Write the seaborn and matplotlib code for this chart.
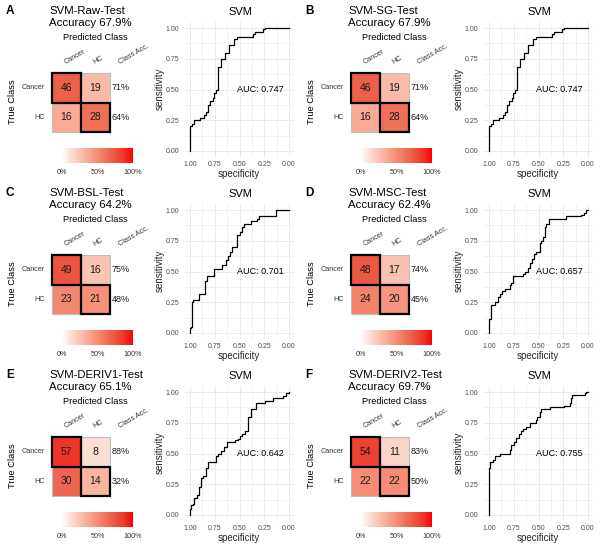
import numpy as np
import pandas as pd
import matplotlib
matplotlib.use("Agg")
import matplotlib.pyplot as plt
import seaborn as sns
from matplotlib.colors import LinearSegmentedColormap
from matplotlib.patches import Rectangle

# ---- data ----
letters = ["A", "B", "C", "D", "E", "F"]
titles = ["SVM-Raw-Test", "SVM-SG-Test", "SVM-BSL-Test",
          "SVM-MSC-Test", "SVM-DERIV1-Test", "SVM-DERIV2-Test"]
classes = ["Cancer", "HC"]
col_labels = ["Cancer", "HC", "Class Acc."]

cm_a = [[46, 19], [16, 28]]
cm_b = [[46, 19], [16, 28]]
cm_c = [[49, 16], [23, 21]]
cm_d = [[48, 17], [24, 20]]
cm_e = [[57, 8], [30, 14]]
cm_f = [[54, 11], [22, 22]]

auc_values = [0.747, 0.747, 0.701, 0.657, 0.642, 0.755]

roc_a_spec = [1.00, 1.00, 0.983, 0.96, 0.90, 0.856, 0.84, 0.82, 0.80, 0.77, 0.76, 0.74,
              0.72, 0.69, 0.65, 0.61, 0.56, 0.53, 0.36, 0.34, 0.26, 0.245, 0.00]
roc_a_sens = [0.00, 0.20, 0.22, 0.25, 0.27, 0.29, 0.32, 0.37, 0.41, 0.43, 0.47, 0.50,
              0.68, 0.75, 0.80, 0.86, 0.91, 0.93, 0.95, 0.97, 0.99, 1.00, 1.00]
roc_b_spec = list(roc_a_spec)
roc_b_sens = list(roc_a_sens)
roc_c_spec = [1.0, 1.0, 0.993, 0.983, 0.967, 0.91, 0.853, 0.827, 0.76, 0.677, 0.633, 0.62,
              0.60, 0.577, 0.527, 0.493, 0.477, 0.45, 0.383, 0.327, 0.30, 0.133, 0.0]
roc_c_sens = [0.0, 0.04, 0.05, 0.25, 0.27, 0.32, 0.42, 0.46, 0.52, 0.55, 0.59, 0.63,
              0.66, 0.70, 0.80, 0.82, 0.86, 0.89, 0.91, 0.93, 0.95, 1.0, 1.0]
roc_d_spec = [1.0, 1.0, 0.976, 0.936, 0.909, 0.892, 0.865, 0.842, 0.791, 0.774, 0.758, 0.657,
              0.633, 0.606, 0.59, 0.566, 0.545, 0.529, 0.488, 0.471, 0.455, 0.438, 0.421,
              0.397, 0.219, 0.067, 0.044, 0.024, 0.0]
roc_d_sens = [0.0, 0.11, 0.23, 0.25, 0.29, 0.32, 0.34, 0.36, 0.39, 0.41, 0.46, 0.48,
              0.50, 0.53, 0.57, 0.60, 0.64, 0.66, 0.73, 0.75, 0.78, 0.86, 0.89,
              0.93, 0.95, 0.96, 0.98, 1.0, 1.0]
roc_e_spec = [1.0, 1.0, 0.993, 0.966, 0.956, 0.926, 0.913, 0.893, 0.873, 0.842, 0.815, 0.742,
              0.715, 0.691, 0.654, 0.631, 0.547, 0.513, 0.497, 0.47, 0.446, 0.419, 0.379,
              0.329, 0.245, 0.161, 0.06, 0.027, 0.0]
roc_e_sens = [0.0, 0.05, 0.08, 0.09, 0.14, 0.16, 0.23, 0.30, 0.32, 0.38, 0.43, 0.48,
              0.50, 0.52, 0.55, 0.59, 0.61, 0.62, 0.64, 0.66, 0.68, 0.80, 0.86,
              0.91, 0.93, 0.95, 0.97, 0.99, 1.0]
roc_f_spec = [1.0, 1.0, 0.99, 0.96, 0.943, 0.892, 0.791, 0.774, 0.751, 0.724, 0.70, 0.68,
              0.657, 0.623, 0.59, 0.529, 0.512, 0.488, 0.471, 0.387, 0.242, 0.185, 0.168,
              0.158, 0.034, 0.017, 0.0]
roc_f_sens = [0.0, 0.38, 0.43, 0.45, 0.48, 0.50, 0.53, 0.57, 0.59, 0.63, 0.66, 0.68,
              0.70, 0.72, 0.75, 0.77, 0.80, 0.84, 0.86, 0.88, 0.89, 0.91, 0.95,
              0.98, 0.99, 1.0, 1.0]

matrices = [cm_a, cm_b, cm_c, cm_d, cm_e, cm_f]
roc_specs = [roc_a_spec, roc_b_spec, roc_c_spec, roc_d_spec, roc_e_spec, roc_f_spec]
roc_senss = [roc_a_sens, roc_b_sens, roc_c_sens, roc_d_sens, roc_e_sens, roc_f_sens]

# ---- style ----
sns.set_theme(style="white")
plt.rcParams["font.family"] = ["Liberation Sans", "DejaVu Sans"]

W, H = 600, 550
fig = plt.figure(figsize=(W / 100, H / 100), dpi=100)

cmap = LinearSegmentedColormap.from_list(
    "wr",
    [(0.0, "#FFFFFF"), (0.12, "#FCDED4"), (0.30, "#F9B9A4"), (0.50, "#F58C73"),
     (0.71, "#EC5F48"), (0.88, "#EE3528"), (1.0, "#FF0000")])


def fxy(x, y):
    return x / W, 1 - y / H


def add_ax(x, y, w, h):
    return fig.add_axes([x / W, 1 - (y + h) / H, w / W, h / H])


dark = "#262626"
grey = "#4D4D4D"

for i in range(6):
    ox = (i % 2) * 299
    oy = (i // 2) * 182
    counts = np.array(matrices[i])
    props = counts / counts.sum(axis=1, keepdims=True)
    acc = np.trace(counts) / counts.sum() * 100
    class_acc = np.round(np.diag(props) * 100).astype(int)

    # confusion matrix
    ax = add_ax(ox + 52, oy + 73, 58, 59)
    cax = add_ax(ox + 62, oy + 148, 71, 15)
    sns.heatmap(pd.DataFrame(props, index=classes, columns=classes), ax=ax,
                cmap=cmap, vmin=0, vmax=1, annot=counts, fmt="d",
                annot_kws={"fontsize": 7.5, "color": "#1A1A1A"},
                xticklabels=False, yticklabels=classes, cbar_ax=cax,
                cbar_kws={"orientation": "horizontal", "ticks": [0, 0.5, 1]})
    ax.set_xlabel("")
    ax.set_ylabel("")
    ax.tick_params(axis="y", length=0, pad=5, labelsize=5.2, labelcolor="#333333",
                   labelrotation=0)
    for r in range(2):
        for c in range(2):
            if r != c:
                ax.add_patch(Rectangle((c, r), 1, 1, fill=False, ec="#BDBDBD",
                                       lw=0.8, clip_on=False))
    for r in range(2):
        ax.add_patch(Rectangle((r, r), 1, 1, fill=False, ec="black", lw=1.6,
                               clip_on=False, zorder=5))
    for j, lab in enumerate(col_labels):
        xpos = j + 0.5 if j < 2 else 2.38
        ax.text(xpos, -0.24, lab, rotation=30, rotation_mode="anchor", ha="left",
                va="bottom", fontsize=5.2, color="#333333", clip_on=False)
    for r in range(2):
        ax.text(2.38, r + 0.5, f"{class_acc[r]}%", ha="center", va="center",
                fontsize=6.5, color="#1A1A1A", clip_on=False)

    cbar = ax.collections[0].colorbar
    cbar.outline.set_visible(False)
    cax.set_xticklabels(["0%", "50%", "100%"])
    cax.tick_params(axis="x", length=0, pad=4, labelsize=5.2, labelcolor="#333333")

    fig.text(*fxy(ox + 10, oy + 11), letters[i], fontsize=8.5, fontweight="bold",
             ha="center", va="center", color="black")
    fig.text(*fxy(ox + 49, oy + 11.5), titles[i], fontsize=8.2, ha="left",
             va="center", color="black")
    fig.text(*fxy(ox + 49, oy + 23.5), f"Accuracy {acc:.1f}%", fontsize=8.2,
             ha="left", va="center", color="black")
    fig.text(*fxy(ox + 95, oy + 38), "Predicted Class", fontsize=6.6,
             ha="center", va="center", color="black")
    fig.text(*fxy(ox + 13, oy + 102), "True Class", fontsize=6.7, rotation=90,
             ha="center", va="center", color="black")

    # ROC curve
    rax = add_ax(ox + 185, oy + 22, 109, 135)
    df = pd.DataFrame({"specificity": roc_specs[i], "sensitivity": roc_senss[i]})
    sns.lineplot(data=df, x="specificity", y="sensitivity", ax=rax, sort=False,
                 estimator=None, drawstyle="steps-post", color="black", lw=0.9)
    rax.set_xlim(1.05, -0.05)
    rax.set_ylim(-0.05, 1.05)
    ticks = [0, 0.25, 0.5, 0.75, 1.0]
    rax.set_xticks(ticks)
    rax.set_yticks(ticks)
    rax.set_xticklabels([f"{t:.2f}" for t in ticks])
    rax.set_yticklabels([f"{t:.2f}" for t in ticks])
    rax.set_xticks([0.125, 0.375, 0.625, 0.875], minor=True)
    rax.set_yticks([0.125, 0.375, 0.625, 0.875], minor=True)
    rax.grid(which="major", color="#EBEBEB", lw=0.7)
    rax.grid(which="minor", color="#EBEBEB", lw=0.45)
    rax.set_axisbelow(True)
    for s in rax.spines.values():
        s.set_visible(False)
    rax.tick_params(which="both", length=0, labelsize=5, labelcolor=grey)
    rax.tick_params(axis="y", pad=4)
    rax.tick_params(axis="x", pad=3)
    rax.set_xlabel("")
    rax.set_ylabel("")
    rax.text(0.29, 0.5, f"AUC: {auc_values[i]:.3f}", ha="center", va="center",
             fontsize=6.5, color="black")
    fig.text(*fxy(ox + 240, oy + 12), "SVM", fontsize=8, ha="center", va="center",
             color="black")
    fig.text(*fxy(ox + 239, oy + 174), "specificity", fontsize=7, ha="center",
             va="center", color=dark)
    fig.text(*fxy(ox + 160, oy + 89), "sensitivity", fontsize=7, rotation=90,
             ha="center", va="center", color=dark)

fig.savefig("out.png", dpi=100)
